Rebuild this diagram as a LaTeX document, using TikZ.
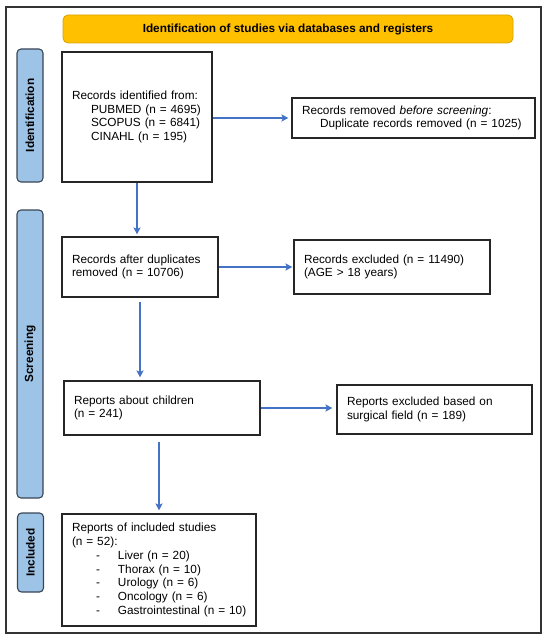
\documentclass[tikz,border=0pt]{standalone}
\usepackage{fontspec}
\setmainfont{Liberation Sans}
\usepackage{tikz}
\usetikzlibrary{arrows.meta,calc}
\definecolor{camvang}{HTML}{FFC000}
\definecolor{vienvang}{HTML}{D9A300}
\definecolor{xanhnhat}{HTML}{9DC3E6}
\definecolor{vienxanh}{HTML}{3A4656}
\definecolor{xanhmuiten}{HTML}{4472C4}
\newcommand{\muc}[1]{\hspace*{24pt}\makebox[22pt][l]{-}\mbox{#1}}

\begin{document}
\begin{tikzpicture}[x=1pt,y=-1pt,>={Stealth[length=7pt,width=7pt,inset=1.5pt]},
    font=\fontsize{11.8}{13.7}\selectfont,
    hop/.style={draw=black!85,line width=1.1pt,fill=white,inner xsep=10pt,inner ysep=0pt,align=left},
    giaidoan/.style={draw=vienxanh,fill=xanhnhat,rounded corners=4pt,line width=1.1pt,rotate=90,
        minimum height=26pt,inner sep=0pt,font=\fontsize{11.8}{13.7}\selectfont\bfseries},
    muiten/.style={->,draw=xanhmuiten,line width=1.6pt}]
    %Khung ngoài
    \useasboundingbox (0,0) rectangle (550,642);
    \draw[line width=1.4pt,draw=black!80] (6,7) rectangle (541,633);
    %Tiêu đề
    \node[draw=vienvang,fill=camvang,rounded corners=5pt,line width=0.8pt,minimum width=450pt,
        minimum height=28pt,font=\fontsize{11.8}{13.7}\selectfont\bfseries] (tieude) at (288,29)
        {Identification of studies via databases and registers};
    %Các giai đoạn
    \node[giaidoan,minimum width=133pt] (dinhdanh) at (30,115.5) {Identification};
    \node[giaidoan,minimum width=288pt] (sangloc) at (30,354) {Screening};
    \node[giaidoan,minimum width=79pt] (dua) at (30.5,552.5) {Included};
    %Các hộp
    \node[hop,text width=130pt,minimum height=130pt] (nguon) at (137,117)
        {Records identified from:\\\hspace*{19pt}PUBMED (n = 4695)\\\hspace*{19pt}SCOPUS (n = 6841)\\\hspace*{19pt}CINAHL (n = 195)};
    \node[hop,text width=223pt,minimum height=40pt] (loaibo) at (413.5,118)
        {Records removed \textit{before screening}:\\\hspace*{18pt}Duplicate records removed (n = 1025)};
    \node[hop,text width=136pt,minimum height=60pt] (trung) at (140,267)
        {Records after duplicates\\removed (n = 10706)};
    \node[hop,text width=176pt,minimum height=54pt] (loai) at (392,267)
        {Records excluded (n = 11490)\\(AGE > 18 years)};
    \node[hop,text width=176pt,minimum height=54pt] (tre) at (162,408)
        {Reports about children\\(n = 241)};
    \node[hop,text width=175pt,minimum height=49pt] (linhvuc) at (434.5,409.5)
        {Reports excluded based on\\surgical field (n = 189)};
    \node[hop,text width=174pt,minimum height=112pt] (baocao) at (159,570)
        {Reports of included studies\\(n = 52):\\\muc{Liver (n = 20)}\\\muc{Thorax (n = 10)}\\\muc{Urology (n = 6)}\\\muc{Oncology (n = 6)}\\\muc{Gastrointestinal (n = 10)}};
    %Mũi tên
    \draw[muiten,shorten >=3pt] (nguon.east |- loaibo.west) -- (loaibo.west);
    \draw[muiten,shorten >=2pt] (nguon.south) -- (nguon.south |- trung.north);
    \draw[muiten,shorten >=1pt] (trung.east) -- (loai.west);
    \draw[muiten,shorten <=4pt,shorten >=3pt] (trung.south) -- (trung.south |- tre.north);
    \draw[muiten,shorten >=4pt] (tre.east) -- (tre.east -| linhvuc.west);
    \draw[muiten,shorten <=6pt,shorten >=3pt] (tre.south -| baocao.north) -- (baocao.north);
\end{tikzpicture}
\end{document}
